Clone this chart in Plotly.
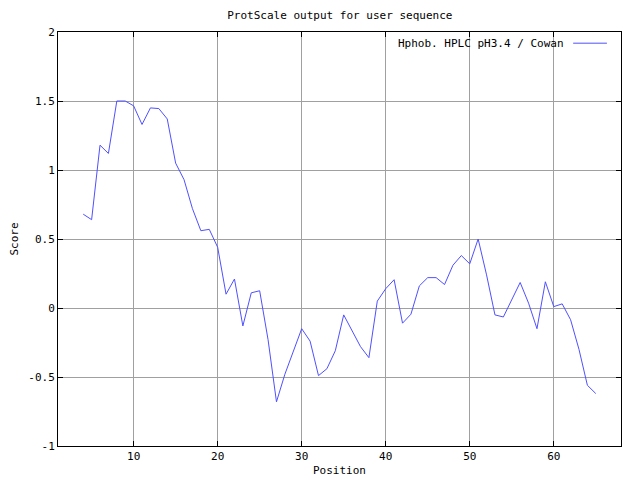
import plotly.graph_objects as go

# window center positions and scores (Hphob. HPLC pH3.4 / Cowan)
positions = list(range(4, 66))
scores = [
    0.68, 0.64, 1.18, 1.12, 1.50, 1.50, 1.465, 1.33, 1.45, 1.445,
    1.37, 1.05, 0.93, 0.72, 0.56, 0.57, 0.44, 0.10, 0.21, -0.13,
    0.11, 0.125, -0.23, -0.68, -0.48, -0.31, -0.15, -0.24, -0.49, -0.44,
    -0.31, -0.05, -0.17, -0.28, -0.36, 0.05, 0.14, 0.205, -0.11, -0.045,
    0.16, 0.22, 0.22, 0.17, 0.31, 0.38, 0.32, 0.50, 0.24, -0.05,
    -0.065, 0.065, 0.185, 0.035, -0.15, 0.19, 0.01, 0.03, -0.085, -0.30,
    -0.56, -0.62,
]
x_ticks = [10, 20, 30, 40, 50, 60]
y_ticks = [-1, -0.5, 0, 0.5, 1, 1.5, 2]
y_tick_text = ['-1', '-0.5', '0', '0.5', '1', '1.5', '2']

FONT = 'DejaVu Sans Mono'
LINE_COLOR = '#5050ff'

fig = go.Figure()
fig.add_trace(go.Scatter(
    x=positions, y=scores, mode='lines',
    line=dict(color=LINE_COLOR, width=1),
    showlegend=False,
))

axis_common = dict(
    showline=True, linecolor='black', linewidth=1, mirror='ticks',
    ticks='inside', ticklen=5, tickcolor='black',
    showgrid=True, gridcolor='#a0a0a0', gridwidth=1,
    zeroline=False, automargin=False,
    tickfont=dict(family=FONT, size=11, color='black'),
)

fig.update_xaxes(
    range=[1, 68], tickvals=x_ticks,
    title=dict(text='Position', font=dict(family=FONT, size=11, color='black'), standoff=4),
    **axis_common
)
fig.update_yaxes(
    range=[-1, 2], tickvals=y_ticks, ticktext=y_tick_text,
    title=dict(text='Score', font=dict(family=FONT, size=11, color='black'), standoff=12),
    **axis_common
)

# gnuplot style key: text then line sample, top right inside the plot
fig.add_annotation(
    xref='paper', yref='paper', x=0.902, y=0.973,
    text='Hphob. HPLC pH3.4 / Cowan', showarrow=False,
    xanchor='right', yanchor='middle',
    font=dict(family=FONT, size=11, color='black'),
)
fig.add_shape(
    type='line', xref='paper', yref='paper',
    x0=0.915, x1=0.975, y0=0.973, y1=0.973,
    line=dict(color=LINE_COLOR, width=1),
)

fig.update_layout(
    width=632, height=472,
    margin=dict(l=50, r=19, t=24, b=34),
    paper_bgcolor='white', plot_bgcolor='white',
    title=dict(text='ProtScale output for user sequence', x=0.525, xanchor='center',
               y=0.985, yanchor='middle',
               font=dict(family=FONT, size=11, color='black')),
    font=dict(family=FONT, size=11, color='black'),
)

fig.write_html('out.html')
